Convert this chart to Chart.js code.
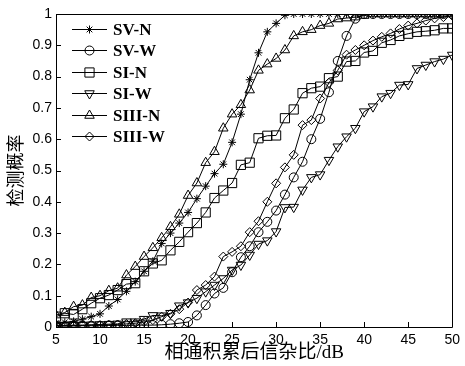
<html>
<head>
<meta charset="utf-8">
<title>检测概率</title>
<style>
body { margin: 0; background: white; }
.chartBox { width: 465px; height: 366px; }
</style>
</head>
<body>
<div class="chartBox">
	<canvas id="myChart" width="465" height="366"></canvas>
</div>
<script src="https://cdn.jsdelivr.net/npm/chart.js@4.4.0/dist/chart.umd.min.js"></script>
<script>

// x values (dB)
const snr = [];
for (let i = 5; i <= 50; i++) snr.push(i);

const sv_n = [0.012, 0.015, 0.018, 0.025, 0.033, 0.042, 0.067, 0.088, 0.114, 0.145,
    0.178, 0.21, 0.267, 0.30, 0.332, 0.366, 0.41, 0.45, 0.49, 0.52,
    0.59, 0.68, 0.79, 0.876, 0.943, 0.97, 0.996, 1, 1, 1,
    1, 1, 1, 1, 1, 1, 1, 1, 1, 1,
    1, 1, 1, 1, 1, 1];
const sv_w = [0.003, 0.003, 0.003, 0.004, 0.004, 0.004, 0.005, 0.005, 0.005, 0.006,
    0.006, 0.006, 0.007, 0.009, 0.012, 0.016, 0.037, 0.07, 0.107, 0.125,
    0.175, 0.223, 0.258, 0.303, 0.336, 0.372, 0.423, 0.478, 0.528, 0.60,
    0.665, 0.75, 0.85, 0.93, 0.985, 1, 1, 1, 1, 1,
    1, 1, 1, 1, 1, 1];
const si_n = [0.033, 0.044, 0.04, 0.057, 0.076, 0.092, 0.102, 0.118, 0.137, 0.14,
    0.178, 0.203, 0.213, 0.245, 0.272, 0.303, 0.332, 0.366, 0.412, 0.436,
    0.46, 0.518, 0.525, 0.603, 0.611, 0.612, 0.667, 0.695, 0.747, 0.763,
    0.768, 0.795, 0.80, 0.848, 0.85, 0.877, 0.882, 0.908, 0.917, 0.93,
    0.937, 0.943, 0.945, 0.948, 0.954, 0.954];
const si_w = [0.005, 0.005, 0.006, 0.006, 0.007, 0.008, 0.009, 0.01, 0.017, 0.017,
    0.025, 0.037, 0.036, 0.044, 0.068, 0.078, 0.092, 0.113, 0.134, 0.155,
    0.182, 0.198, 0.23, 0.265, 0.276, 0.305, 0.382, 0.383, 0.438, 0.478,
    0.487, 0.533, 0.576, 0.608, 0.635, 0.688, 0.704, 0.736, 0.747, 0.773,
    0.775, 0.826, 0.837, 0.848, 0.856, 0.869];
const siii_n = [0.038, 0.046, 0.065, 0.07, 0.094, 0.1, 0.116, 0.124, 0.166, 0.193,
    0.225, 0.253, 0.285, 0.32, 0.36, 0.42, 0.46, 0.525, 0.56, 0.635,
    0.68, 0.71, 0.757, 0.82, 0.84, 0.858, 0.885, 0.93, 0.943, 0.95,
    0.963, 0.97, 0.984, 0.987, 0.99, 0.995, 1, 1, 1, 1,
    1, 1, 1, 1, 1, 1];
const siii_w = [0.004, 0.004, 0.005, 0.005, 0.006, 0.006, 0.007, 0.008, 0.01, 0.012,
    0.016, 0.022, 0.033, 0.042, 0.057, 0.078, 0.118, 0.134, 0.161, 0.225,
    0.24, 0.258, 0.303, 0.338, 0.40, 0.459, 0.51, 0.55, 0.645, 0.661,
    0.73, 0.78, 0.82, 0.87, 0.885, 0.90, 0.915, 0.927, 0.938, 0.952,
    0.963, 0.97, 0.979, 0.986, 0.99, 0.995];

const seriesNames = ['SV-N', 'SV-W', 'SI-N', 'SI-W', 'SIII-N', 'SIII-W'];
const seriesValues = [sv_n, sv_w, si_n, si_w, siii_n, siii_w];
const markers = [
    {style: 'star', radius: 4, rotation: 0},
    {style: 'circle', radius: 4.5, rotation: 0},
    {style: 'rect', radius: 6.5, rotation: 0},
    {style: 'triangle', radius: 5.5, rotation: 180},
    {style: 'triangle', radius: 5.5, rotation: 0},
    {style: 'rectRot', radius: 4.5, rotation: 0}
];

const xTicks = [5, 10, 15, 20, 25, 30, 35, 40, 45, 50];

const datasets = [];
for (let i = 0; i < seriesNames.length; i++) {
    datasets.push({
        label: seriesNames[i],
        data: snr.map((x, j) => ({x: x, y: seriesValues[i][j]})),
        borderColor: '#000',
        borderWidth: 1,
        backgroundColor: 'rgba(0,0,0,0)',
        pointStyle: markers[i].style,
        pointRadius: markers[i].radius,
        pointRotation: markers[i].rotation,
        pointBorderColor: '#000',
        pointBackgroundColor: 'rgba(0,0,0,0)',
        pointBorderWidth: 1,
        fill: false,
        tension: 0
    });
}

// box, inward ticks and in-plot legend
const boxPlugin = {
    id: 'boxPlugin',
    afterDraw(chart) {
        const ctx = chart.ctx;
        const a = chart.chartArea;
        const xs = chart.scales.x, ys = chart.scales.y;
        ctx.save();
        ctx.strokeStyle = '#000';
        ctx.lineWidth = 1;
        ctx.beginPath();
        ctx.rect(Math.round(a.left) + 0.5, Math.round(a.top) + 0.5,
                 Math.round(a.right - a.left), Math.round(a.bottom - a.top));
        ctx.stroke();
        ctx.beginPath();
        xTicks.forEach(v => {
            const px = Math.round(xs.getPixelForValue(v)) + 0.5;
            ctx.moveTo(px, a.bottom);
            ctx.lineTo(px, a.bottom - 5);
        });
        ys.ticks.forEach(t => {
            const py = Math.round(ys.getPixelForValue(t.value)) + 0.5;
            ctx.moveTo(a.left, py);
            ctx.lineTo(a.left + 5, py);
        });
        ctx.stroke();

        // legend
        const lx = a.left + 16, ly = a.top + 15, step = 21.4;
        ctx.font = 'bold 17px "Liberation Serif", "Times New Roman", serif';
        ctx.textBaseline = 'middle';
        chart.data.datasets.forEach((ds, i) => {
            const y = Math.round(ly + i * step) + 0.5;
            ctx.beginPath();
            ctx.moveTo(lx, y);
            ctx.lineTo(lx + 35, y);
            ctx.stroke();
            ctx.fillStyle = 'rgba(0,0,0,0)';
            Chart.helpers.drawPoint(ctx, {
                pointStyle: ds.pointStyle,
                rotation: ds.pointRotation,
                radius: ds.pointRadius,
                borderWidth: 1
            }, lx + 17.5, y);
            ctx.fillStyle = '#000';
            ctx.fillText(ds.label, lx + 41, y + 1);
        });
        ctx.restore();
    }
};

const config = {
    type: 'line',
    data: { datasets },
    options: {
        responsive: false,
        animation: false,
        layout: { autoPadding: false, padding: { top: 14, right: 7, left: 0, bottom: 0 } },
        plugins: { legend: { display: false }, tooltip: { enabled: false } },
        scales: {
            x: {
                type: 'linear',
                min: 5, max: 50,
                afterFit(scale) { scale.height = 39; },
                afterBuildTicks(scale) { scale.ticks = xTicks.map(v => ({value: v})); },
                grid: { display: false, drawTicks: false },
                border: { display: false },
                ticks: {
                    color: '#000', padding: 5,
                    font: { family: '"Liberation Sans", Arial, sans-serif', size: 14 },
                    maxRotation: 0, autoSkip: false
                },
                title: {
                    display: true, text: '相通积累后信杂比/dB', color: '#000',
                    font: { family: '"Liberation Serif", "Noto Sans CJK SC", serif', size: 19 },
                    padding: { top: 0, bottom: 2 }
                }
            },
            y: {
                min: 0, max: 1,
                afterFit(scale) { scale.width = 56; },
                grid: { display: false, drawTicks: false },
                border: { display: false },
                ticks: {
                    stepSize: 0.1, color: '#000', padding: 4,
                    font: { family: '"Liberation Sans", Arial, sans-serif', size: 14 },
                    callback: v => +v.toFixed(1)
                },
                title: {
                    display: true, text: '检测概率', color: '#000',
                    font: { family: '"Noto Sans CJK SC", sans-serif', size: 18 },
                    padding: { top: 4, bottom: 0 }
                }
            }
        }
    },
    plugins: [boxPlugin]
};

const myChart = new Chart(document.getElementById('myChart'), config);
</script>
</body></html>
